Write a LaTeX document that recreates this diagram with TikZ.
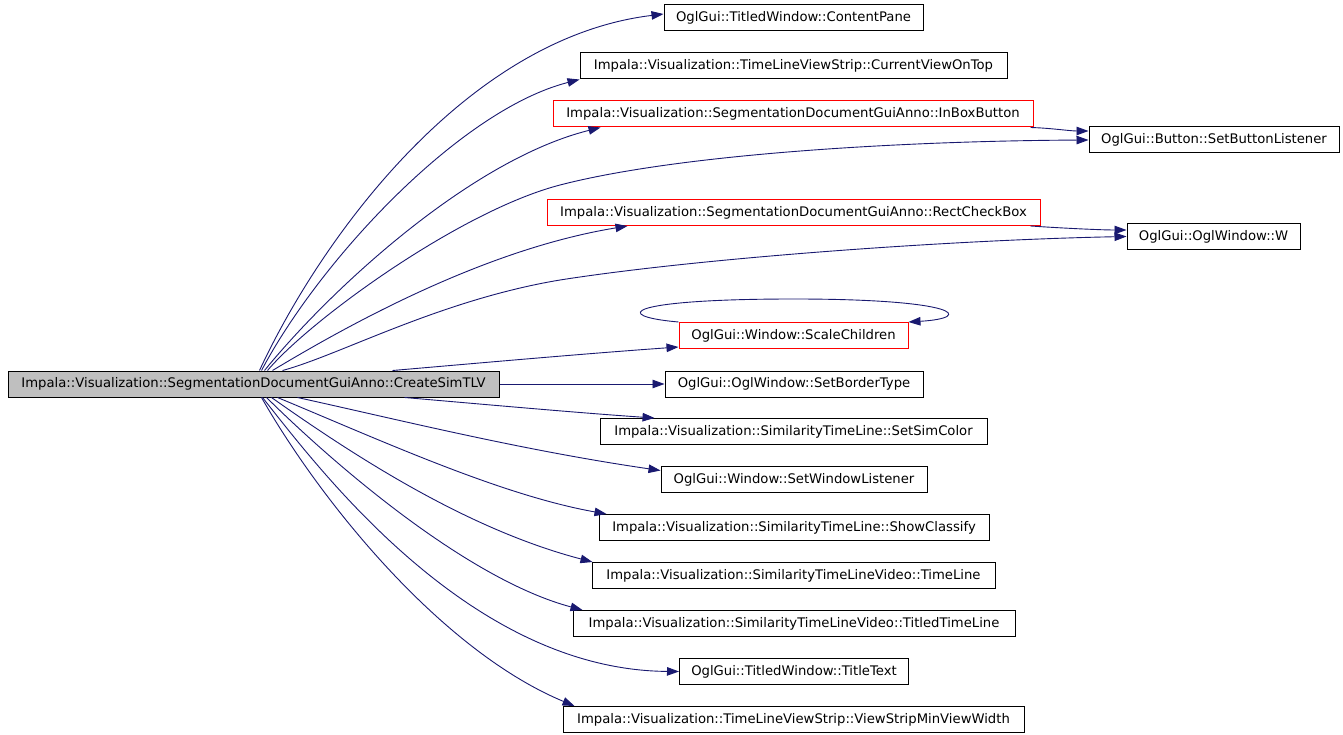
\documentclass[tikz,border=0pt]{standalone}
\usepackage{fontspec}
\setmainfont{DejaVu Sans}
\usetikzlibrary{arrows.meta}
\definecolor{edgeblue}{RGB}{25,25,112}
\definecolor{rootgray}{RGB}{191,191,191}
\begin{document}
\begin{tikzpicture}[x=1pt,y=-1pt,
  fbox/.style={draw=black,line width=1pt,inner sep=0pt,minimum height=26pt,
    font=\fontsize{13.2pt}{15pt}\selectfont},
  redbox/.style={fbox,draw=red},
  edge/.style={draw=edgeblue,line width=0.9pt,-{Triangle[length=12pt,width=8.5pt]}}]
\fill[white] (0,0) rectangle (1343,735);
\useasboundingbox (0,0) rectangle (1343,735);
% nodes
\node[fbox,fill=rootgray,minimum width=491pt] (root) at (253.5,384) {Impala::Visualization::SegmentationDocumentGuiAnno::CreateSimTLV};
\node[fbox,minimum width=259pt] (cp) at (793.5,18) {OglGui::TitledWindow::ContentPane};
\node[fbox,minimum width=427pt] (cvt) at (793.5,66) {Impala::Visualization::TimeLineViewStrip::CurrentViewOnTop};
\node[redbox,minimum width=480pt] (ibb) at (793,114) {Impala::Visualization::SegmentationDocumentGuiAnno::InBoxButton};
\node[fbox,minimum width=250pt] (sbl) at (1214,140) {OglGui::Button::SetButtonListener};
\node[redbox,minimum width=493pt] (rcb) at (793.5,212.5) {Impala::Visualization::SegmentationDocumentGuiAnno::RectCheckBox};
\node[fbox,minimum width=173pt] (w) at (1213.5,236.5) {OglGui::OglWindow::W};
\node[redbox,minimum width=229pt] (sc) at (793.5,335.5) {OglGui::Window::ScaleChildren};
\node[fbox,minimum width=258pt] (sbt) at (794,384) {OglGui::OglWindow::SetBorderType};
\node[fbox,minimum width=387pt] (ssc) at (793.5,431.5) {Impala::Visualization::SimilarityTimeLine::SetSimColor};
\node[fbox,minimum width=266pt] (swl) at (794,479.5) {OglGui::Window::SetWindowListener};
\node[fbox,minimum width=390pt] (shc) at (794,527.5) {Impala::Visualization::SimilarityTimeLine::ShowClassify};
\node[fbox,minimum width=403pt] (tl) at (793.5,575.5) {Impala::Visualization::SimilarityTimeLineVideo::TimeLine};
\node[fbox,minimum width=442pt] (ttl) at (794,623.5) {Impala::Visualization::SimilarityTimeLineVideo::TitledTimeLine};
\node[fbox,minimum width=229pt] (tt) at (794,671.5) {OglGui::TitledWindow::TitleText};
\node[fbox,minimum width=461pt] (vs) at (793.5,719.5) {Impala::Visualization::TimeLineViewStrip::ViewStripMinViewWidth};
% edges upward
\draw[edge] ([xshift=252pt]root.north west) .. controls (320,240) and (465,38) .. ([yshift=4pt]cp.west);
\draw[edge] ([xshift=254pt]root.north west) .. controls (320,260) and (460,110) .. (cvt.south west);
\draw[edge] ([xshift=257pt]root.north west) .. controls (330,290) and (470,160) .. ([xshift=48pt]ibb.south west);
\draw[edge] ([xshift=260pt]root.north west) .. controls (310,320) and (460,211) .. (560,185) .. controls (680,154) and (900,141) .. (sbl.west);
\draw[edge] ([xshift=265pt]root.north west) .. controls (340,330) and (480,250) .. ([xshift=81pt]rcb.south west);
\draw[edge] ([xshift=275pt]root.north west) .. controls (340,355) and (440,300) .. (560,280) .. controls (700,258) and (950,240) .. (w.west);
\draw[edge] ([xshift=385pt]root.north west) .. controls (480,363) and (580,354) .. ([yshift=2pt]sc.south west);
% side edges
\draw[edge] ([xshift=-3pt]ibb.south east) .. controls (1050,128) and (1070,131) .. ([yshift=9pt]sbl.west);
\draw[edge] ([xshift=-10pt]rcb.south east) .. controls (1060,228) and (1100,230) .. ([yshift=6.5pt]w.west);
% self loop
\draw[edge] (sc.north west) .. controls (610,316) and (625,299) .. (794,299) .. controls (960,299) and (975,318) .. (sc.north east);
% horizontal
\draw[edge] (root.east) -- (sbt.west);
% edges downward
\draw[edge] ([xshift=397pt]root.south west) .. controls (480,404) and (580,413) .. ([xshift=55pt]ssc.north west);
\draw[edge] ([xshift=290pt]root.south west) .. controls (400,420) and (520,450) .. ([yshift=9pt]swl.west);
\draw[edge] ([xshift=270pt]root.south west) .. controls (380,440) and (500,495) .. ([xshift=8pt]shc.north west);
\draw[edge] ([xshift=264pt]root.south west) .. controls (360,460) and (470,530) .. ([xshift=1pt]tl.north west);
\draw[edge] ([xshift=259pt]root.south west) .. controls (340,470) and (470,580) .. ([xshift=10pt]ttl.north west);
\draw[edge] ([xshift=255pt]root.south west) .. controls (320,470) and (470,670) .. (tt.west);
\draw[edge] ([xshift=254pt]root.south west) .. controls (320,500) and (440,650) .. ([xshift=12pt]vs.north west);
\end{tikzpicture}
\end{document}
